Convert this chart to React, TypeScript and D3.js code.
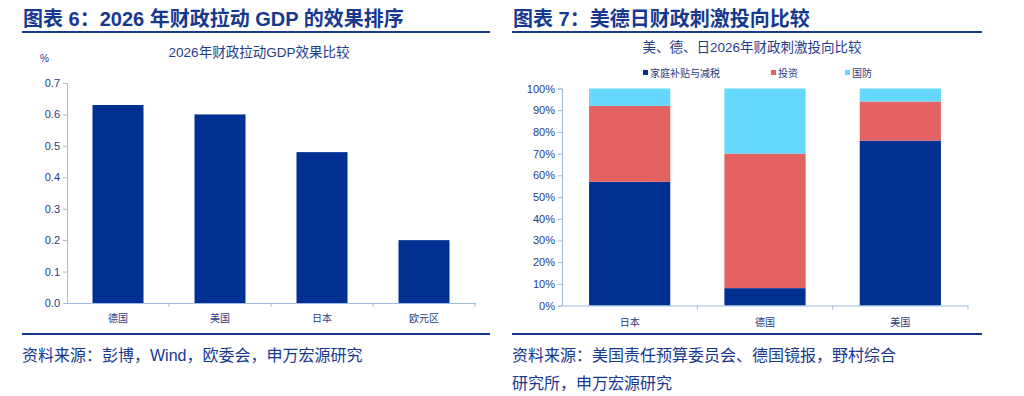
import { useEffect, useRef } from "react";
import * as d3 from "d3";

// chart 6
const gdpCountries = ["德国", "美国", "日本", "欧元区"];
const gdpValues = [0.63, 0.6, 0.48, 0.2];
const gdpTicks = [0, 0.1, 0.2, 0.3, 0.4, 0.5, 0.6, 0.7];

// chart 7
const mixCountries = ["日本", "德国", "美国"];
const mixSeries = ["家庭补贴与减税", "投资", "国防"];
const household = [57, 8, 76];
const investment = [35, 62, 18];
const defense = [8, 30, 6];
const pctTicks = [0, 10, 20, 30, 40, 50, 60, 70, 80, 90, 100];

const FONT = "'Liberation Sans', Arial, 'Noto Sans CJK SC', sans-serif";
const NAVY = "#003192";
const RED = "#E36262";
const CYAN = "#66D8FF";
const TEXT = "#1F3C88";
const AXIS = "#9DBBE3";

const App = () => {
  const svgRef = useRef<SVGSVGElement>(null);

  useEffect(() => {
    const svg = d3.select(svgRef.current);
    svg.selectAll("*").remove();
    svg.attr("font-family", FONT);

    // headers + bottom rules
    const header = (x0: number, x1: number, title: string) => {
      svg
        .append("text")
        .attr("x", x0 + 1)
        .attr("y", 26)
        .attr("font-size", 20)
        .attr("font-weight", "bold")
        .attr("fill", "#16388F")
        .text(title);
      [32, 334].forEach((yy) =>
        svg
          .append("line")
          .attr("x1", x0)
          .attr("x2", x1)
          .attr("y1", yy)
          .attr("y2", yy)
          .attr("stroke", "#16388F")
          .attr("stroke-width", 2)
      );
    };
    header(22, 490, "图表 6：2026 年财政拉动 GDP 的效果排序");
    header(512, 982, "图表 7：美德日财政刺激投向比较");

    // ---- left chart
    const g1 = svg.append("g");
    const x1 = d3
      .scaleBand()
      .domain(gdpCountries)
      .range([67, 475])
      .paddingInner(0.5)
      .paddingOuter(0.25);
    const y1 = d3.scaleLinear().domain([0, 0.7]).range([303, 83]);

    g1.append("text")
      .attr("x", 259)
      .attr("y", 57)
      .attr("text-anchor", "middle")
      .attr("font-size", 13.5)
      .attr("fill", TEXT)
      .text("2026年财政拉动GDP效果比较");
    g1.append("text")
      .attr("x", 40)
      .attr("y", 62)
      .attr("font-size", 10)
      .attr("fill", TEXT)
      .text("%");

    g1.selectAll(".bar")
      .data(gdpValues)
      .enter()
      .append("rect")
      .attr("x", (_, i) => x1(gdpCountries[i])!)
      .attr("y", (d) => y1(d))
      .attr("width", x1.bandwidth())
      .attr("height", (d) => y1(0) - y1(d))
      .attr("fill", NAVY);

    const ya1 = g1
      .append("g")
      .attr("transform", "translate(67,0)")
      .call(d3.axisLeft(y1).tickValues(gdpTicks).tickFormat(d3.format(".1f")).tickSize(4));
    const xa1 = g1
      .append("g")
      .attr("transform", "translate(0,303)")
      .call(d3.axisBottom(x1).tickSize(0).tickPadding(12));
    // category separators
    g1.selectAll(".sep")
      .data(gdpCountries)
      .enter()
      .append("line")
      .attr("x1", (d) => x1(d)! + x1.bandwidth() + (x1.step() - x1.bandwidth()) / 2)
      .attr("x2", (d) => x1(d)! + x1.bandwidth() + (x1.step() - x1.bandwidth()) / 2)
      .attr("y1", 303)
      .attr("y2", 307)
      .attr("stroke", AXIS);

    // ---- right chart
    const g2 = svg.append("g");
    const x2 = d3
      .scaleBand()
      .domain(mixCountries)
      .range([562, 968])
      .paddingInner(0.4)
      .paddingOuter(0.2);
    const y2 = d3.scaleLinear().domain([0, 100]).range([305.5, 88.5]);

    g2.append("text")
      .attr("x", 752)
      .attr("y", 52)
      .attr("text-anchor", "middle")
      .attr("font-size", 13.5)
      .attr("fill", TEXT)
      .text("美、德、日2026年财政刺激投向比较");

    const colors = [NAVY, RED, CYAN];
    const legendX = [643, 771, 845];
    mixSeries.forEach((s, i) => {
      g2.append("rect")
        .attr("x", legendX[i])
        .attr("y", 70)
        .attr("width", 5)
        .attr("height", 5)
        .attr("fill", colors[i]);
      g2.append("text")
        .attr("x", legendX[i] + 7)
        .attr("y", 77)
        .attr("font-size", 10)
        .attr("fill", TEXT)
        .text(s);
    });

    const rows = mixCountries.map((c, i) => ({
      country: c,
      [mixSeries[0]]: household[i],
      [mixSeries[1]]: investment[i],
      [mixSeries[2]]: defense[i],
    }));
    const stacked = d3.stack<any>().keys(mixSeries)(rows);

    g2.selectAll(".layer")
      .data(stacked)
      .enter()
      .append("g")
      .attr("fill", (_, i) => colors[i])
      .selectAll("rect")
      .data((d) => d)
      .enter()
      .append("rect")
      .attr("x", (d) => x2(d.data.country)!)
      .attr("y", (d) => y2(d[1]))
      .attr("width", x2.bandwidth())
      .attr("height", (d) => y2(d[0]) - y2(d[1]));

    const ya2 = g2
      .append("g")
      .attr("transform", "translate(562,0)")
      .call(d3.axisLeft(y2).tickValues(pctTicks).tickFormat((d) => `${d}%`).tickSize(4));
    const xa2 = g2
      .append("g")
      .attr("transform", "translate(0,305.5)")
      .call(d3.axisBottom(x2).tickSize(0).tickPadding(13));
    g2.selectAll(".sep")
      .data(mixCountries)
      .enter()
      .append("line")
      .attr("x1", (d) => x2(d)! + x2.bandwidth() + (x2.step() - x2.bandwidth()) / 2)
      .attr("x2", (d) => x2(d)! + x2.bandwidth() + (x2.step() - x2.bandwidth()) / 2)
      .attr("y1", 305.5)
      .attr("y2", 309.5)
      .attr("stroke", AXIS);

    [ya1, xa1, ya2, xa2].forEach((a) => {
      a.selectAll("path").attr("stroke", AXIS);
      a.selectAll("line").attr("stroke", AXIS);
      a.selectAll("text").attr("fill", TEXT).attr("font-size", 11).attr("font-family", FONT);
    });
    [xa1, xa2].forEach((a) => a.selectAll("text").attr("font-size", 10));

    // sources
    const src = (x: number, y: number, t: string) =>
      svg
        .append("text")
        .attr("x", x)
        .attr("y", y)
        .attr("font-size", 16)
        .attr("fill", "#16388F")
        .text(t);
    src(22, 361, "资料来源：彭博，Wind，欧委会，申万宏源研究");
    src(512, 361, "资料来源：美国责任预算委员会、德国镜报，野村综合");
    src(512, 389, "研究所，申万宏源研究");
  }, []);

  return (
    <svg
      ref={svgRef}
      width={1024}
      height={396}
      style={{ position: "absolute", left: 0, top: 0, background: "#fff" }}
    ></svg>
  );
};

export default App;
